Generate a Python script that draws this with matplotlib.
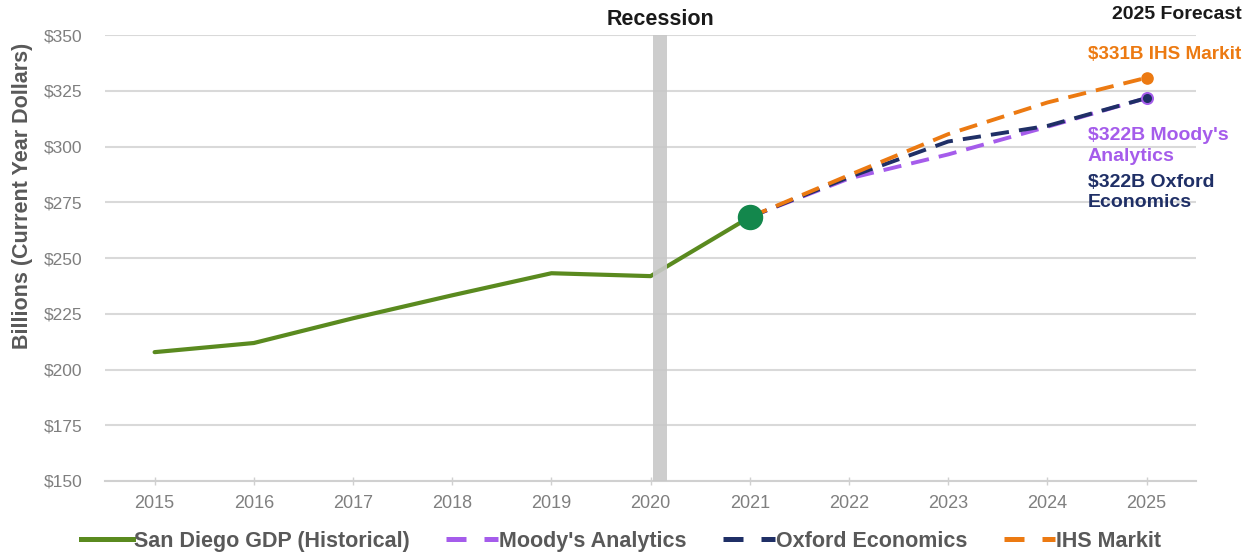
import matplotlib
matplotlib.use("Agg")
import matplotlib.pyplot as plt
from matplotlib.lines import Line2D

plt.rcParams['font.family'] = ['Liberation Sans', 'DejaVu Sans']

hist_years = [2015, 2016, 2017, 2018, 2019, 2020, 2021]
hist_gdp = [207.8, 211.9, 223.0, 233.3, 243.2, 241.9, 268.4]

fc_years = [2021, 2022, 2023, 2024, 2025]
moodys = [268.4, 285.7, 296.5, 308.9, 321.8]
oxford = [268.4, 286.3, 302.3, 309.3, 321.8]
ihs = [268.4, 287.2, 305.6, 319.8, 330.9]

x_ticks = list(range(2015, 2026))
y_ticks = [150, 175, 200, 225, 250, 275, 300, 325, 350]
y_labels = ['$150', '$175', '$200', '$225', '$250', '$275', '$300', '$325', '$350']

c_green = '#5A8A1F'
c_dot = '#13874C'
c_purple = '#A55CEB'
c_navy = '#1F2F66'
c_orange = '#EC7A12'
c_text = '#595959'
c_tick = '#7F7F7F'

fig = plt.figure(figsize=(12.5, 5.58), dpi=100)
ax = fig.add_axes([0.084, 0.138, 0.873, 0.799])

ax.set_xlim(2014.5, 2025.5)
ax.set_ylim(150, 350)
ax.set_yticks(y_ticks)
ax.set_yticklabels(y_labels)
ax.set_xticks(x_ticks)
ax.set_xticklabels([str(y) for y in x_ticks])
ax.grid(axis='y', color='#D9D9D9', lw=1.5, zorder=0)
ax.set_axisbelow(True)
for s in ['top', 'right', 'left']:
    ax.spines[s].set_visible(False)
ax.spines['bottom'].set_color('#D0D0D0')
ax.spines['bottom'].set_linewidth(1.5)
ax.tick_params(axis='y', length=0, labelsize=12.5, labelcolor=c_tick, pad=16)
ax.tick_params(axis='x', length=6, direction='inout', color='#D0D0D0', width=1,
               labelsize=13, labelcolor=c_tick, pad=7)

ax.set_ylabel('Billions (Current Year Dollars)', fontsize=15.5, fontweight='bold', color=c_text)
ax.yaxis.set_label_coords(-0.066, 0.64)

dash = (4.7, 2.6)
ax.plot(hist_years, hist_gdp, color=c_green, lw=3.0, solid_capstyle='round', zorder=3)
ax.plot(fc_years, moodys, color=c_purple, lw=2.8, dashes=dash, zorder=4)
ax.plot(fc_years, oxford, color=c_navy, lw=2.8, dashes=dash, zorder=5)
ax.plot(fc_years, ihs, color=c_orange, lw=2.8, dashes=dash, zorder=6)

ax.scatter([fc_years[-1]], [moodys[-1]], s=70, color=c_purple, zorder=7)
ax.scatter([fc_years[-1]], [oxford[-1]], s=30, color=c_navy, zorder=8)
ax.scatter([fc_years[-1]], [ihs[-1]], s=65, color=c_orange, zorder=8)
ax.scatter([hist_years[-1]], [hist_gdp[-1]], s=300, color=c_dot, zorder=9)

ax.axvspan(2020.02, 2020.17, color='#C8C8C8', alpha=0.9, lw=0, zorder=4)

ax.text(2020.1, 1.012, 'Recession', transform=ax.get_xaxis_transform(), ha='center', va='bottom',
        fontsize=15.5, fontweight='bold', color='#1A1A1A')
fig.text(0.993, 0.974, '2025 Forecast', ha='right', va='center', fontsize=14,
         fontweight='bold', color='#1A1A1A')
fig.text(0.870, 0.902, '$331B IHS Markit', ha='left', va='center', fontsize=13.6,
         fontweight='bold', color=c_orange)
fig.text(0.870, 0.738, "$322B Moody's\nAnalytics", ha='left', va='center', fontsize=14,
         fontweight='bold', color=c_purple, linespacing=1.3)
fig.text(0.870, 0.655, "$322B Oxford\nEconomics", ha='left', va='center', fontsize=14,
         fontweight='bold', color=c_navy, linespacing=1.3)

hd = (4, 3.6)
handles = [
    Line2D([], [], color=c_green, lw=3.6),
    Line2D([], [], color=c_purple, lw=3.6, dashes=hd),
    Line2D([], [], color=c_navy, lw=3.6, dashes=hd),
    Line2D([], [], color=c_orange, lw=3.6, dashes=hd),
]
labels = ['San Diego GDP (Historical)', "Moody's Analytics", 'Oxford Economics', 'IHS Markit']
leg = fig.legend(handles, labels, loc='center', bbox_to_anchor=(0.497, 0.03), ncol=4,
                 frameon=False, prop={'size': 15.5, 'weight': 'bold'}, handlelength=2.4,
                 handletextpad=0.05, columnspacing=1.7)
for t in leg.get_texts():
    t.set_color(c_text)

fig.savefig('out.png', dpi=100)
